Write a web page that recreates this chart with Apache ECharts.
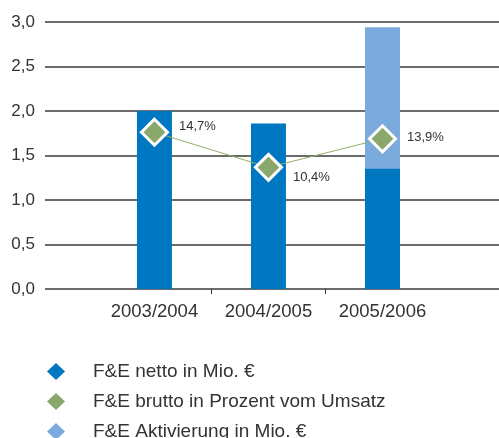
<!DOCTYPE html>
<html>
<head>
<meta charset="utf-8">
<script src="https://cdn.jsdelivr.net/npm/echarts@6/dist/echarts.min.js"></script>
<style>
  html, body { margin: 0; padding: 0; background: #fff; }
  #chart { width: 499px; height: 438px; }
</style>
</head>
<body>
<div id="chart"></div>
<script>
  // Geschäftsjahre
  var categories = ['2003/2004', '2004/2005', '2005/2006'];
  // F&E netto in Mio. €
  var nettoValues = [2.0, 1.86, 1.35];
  // F&E Aktivierung in Mio. € (liegt oben auf netto)
  var aktivValues = [0, 0, 1.59];
  // F&E brutto in Prozent vom Umsatz
  var bruttoPercent = [14.7, 10.4, 13.9];
  var yTicks = [0, 0.5, 1.0, 1.5, 2.0, 2.5, 3.0];

  var fontFam = '"Liberation Sans", Arial, sans-serif';
  var pctLabelOffsets = [[0, -6], [0, 10], [0, -1]];

  function fmt(v, d) {
    return v.toFixed(d).replace('.', ',');
  }

  var myChart = echarts.init(document.getElementById('chart'));
  myChart.setOption({
    animation: false,
    textStyle: { fontFamily: fontFam },
    grid: { left: 45, right: 0, top: 22, bottom: 149 },
    xAxis: {
      type: 'value',
      min: 0.04,
      max: 4.022,
      splitLine: { show: false },
      axisLine: { show: false },
      axisTick: {
        show: true,
        length: 5,
        customValues: [1.5, 2.5],
        lineStyle: { color: '#333', width: 1 }
      },
      axisLabel: {
        customValues: [1, 2, 3],
        formatter: function (v) { return categories[Math.round(v) - 1]; },
        color: '#333',
        fontSize: 18.5,
        margin: 13
      }
    },
    yAxis: [
      {
        type: 'value',
        min: yTicks[0],
        max: yTicks[yTicks.length - 1],
        interval: 0.5,
        axisLine: { show: false },
        axisTick: { show: false },
        axisLabel: {
          formatter: function (v) { return fmt(v, 1); },
          color: '#333',
          fontSize: 17,
          margin: 10
        },
        splitLine: { lineStyle: { color: '#3a3a3a', width: 1.5 } }
      },
      {
        type: 'value',
        min: -4.5,
        max: 28.2,
        show: false
      }
    ],
    legend: {
      orient: 'vertical',
      left: 47,
      top: 362,
      height: 120,
      padding: 0,
      itemWidth: 18,
      itemHeight: 17,
      itemGap: 11,
      textStyle: { color: '#333', fontSize: 19, lineHeight: 17, padding: [0, 0, 0, 23] },
      data: [
        { name: 'F&E netto in Mio. €', icon: 'diamond' },
        { name: 'F&E brutto in Prozent vom Umsatz', icon: 'diamond', itemStyle: { borderWidth: 0 } },
        { name: 'F&E Aktivierung in Mio. €', icon: 'diamond' }
      ]
    },
    series: [
      {
        // Gesamthöhe netto + Aktivierung, hinter dem netto-Balken
        name: 'F&E Aktivierung in Mio. €',
        type: 'bar',
        barWidth: 35,
        z: 1,
        itemStyle: { color: '#7babdc' },
        data: aktivValues.map(function (v, i) {
          return [i + 1, v > 0 ? nettoValues[i] + v : null];
        })
      },
      {
        name: 'F&E netto in Mio. €',
        type: 'bar',
        barWidth: 35,
        barGap: '-100%',
        z: 2,
        itemStyle: { color: '#0077c1' },
        data: nettoValues.map(function (v, i) { return [i + 1, v]; })
      },
      {
        name: 'F&E brutto in Prozent vom Umsatz',
        type: 'line',
        yAxisIndex: 1,
        symbol: 'diamond',
        symbolSize: 26,
        z: 5,
        lineStyle: { color: '#8db06a', width: 1 },
        itemStyle: { color: '#8aa86c', borderColor: '#fff', borderWidth: 3 },
        label: {
          show: true,
          position: 'right',
          distance: 10,
          color: '#333',
          fontSize: 13,
          formatter: function (p) { return fmt(p.value[1], 1) + '%'; }
        },
        data: bruttoPercent.map(function (v, i) {
          return { value: [i + 1, v], label: { offset: pctLabelOffsets[i] } };
        })
      }
    ]
  });
</script>
</body>
</html>
